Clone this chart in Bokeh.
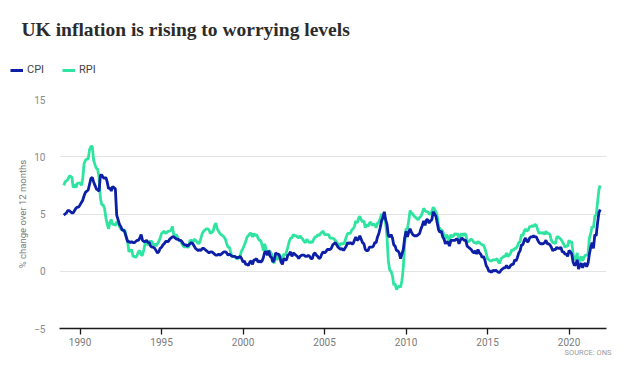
from bokeh.plotting import figure
from bokeh.models import FixedTicker, Legend, LegendItem, Title, Label, Range1d
from bokeh.embed import file_html
from bokeh.resources import INLINE

# ---- data: annual % change, monthly from Jan 1989 to Dec 2021 ----
start_year = 1989
cpi = [
    4.9, 5.0, 5.1, 5.3, 5.3, 5.2, 5.1, 5.1, 5.3, 5.5, 5.6, 5.6,   # 1989
    5.8, 6.0, 6.2, 6.6, 6.9, 7.0, 7.1, 7.6, 8.1, 8.2, 7.8, 7.5,   # 1990
    7.2, 7.1, 7.0, 8.4, 8.4, 8.2, 8.1, 8.2, 7.8, 7.2, 7.3, 7.0,   # 1991
    7.4, 7.3, 7.2, 4.9, 4.5, 4.1, 3.9, 3.6, 3.6, 3.4, 3.0, 2.6,   # 1992
    2.6, 2.5, 2.6, 2.5, 2.5, 2.6, 2.7, 2.7, 2.9, 3.2, 2.7, 2.6,   # 1993
    2.6, 2.7, 2.5, 2.5, 2.2, 2.1, 2.1, 2.0, 1.8, 1.6, 1.7, 2.0,   # 1994
    2.1, 2.3, 2.4, 2.6, 2.6, 2.6, 2.8, 2.9, 3.0, 3.0, 2.9, 2.8,   # 1995
    2.8, 2.7, 2.7, 2.6, 2.4, 2.3, 2.3, 2.2, 2.3, 2.4, 2.5, 2.4,   # 1996
    2.2, 2.0, 1.9, 1.8, 1.9, 1.8, 2.0, 2.0, 1.9, 1.8, 1.7, 1.6,   # 1997
    1.7, 1.7, 1.6, 1.5, 1.4, 1.4, 1.5, 1.4, 1.5, 1.6, 1.7, 1.7,   # 1998
    1.6, 1.4, 1.5, 1.4, 1.3, 1.3, 1.3, 1.2, 1.2, 1.2, 1.3, 1.1,   # 1999
    0.8, 0.9, 0.6, 0.6, 0.5, 0.8, 0.9, 0.6, 1.0, 1.0, 1.1, 0.8,   # 2000
    0.9, 0.8, 0.9, 1.2, 1.7, 1.7, 1.4, 1.8, 1.3, 1.2, 0.8, 1.0,   # 2001
    1.6, 1.5, 1.5, 1.3, 0.8, 0.6, 1.1, 1.0, 1.0, 1.4, 1.5, 1.7,   # 2002
    1.3, 1.6, 1.5, 1.4, 1.3, 1.1, 1.3, 1.4, 1.4, 1.4, 1.3, 1.3,   # 2003
    1.4, 1.3, 1.1, 1.1, 1.5, 1.6, 1.4, 1.3, 1.1, 1.2, 1.5, 1.7,   # 2004
    1.6, 1.7, 1.9, 1.9, 1.9, 2.0, 2.3, 2.4, 2.5, 2.3, 2.1, 2.0,   # 2005
    1.9, 2.0, 1.8, 2.0, 2.2, 2.5, 2.4, 2.5, 2.4, 2.4, 2.7, 3.0,   # 2006
    2.7, 2.8, 3.1, 2.8, 2.5, 2.4, 1.9, 1.8, 1.8, 2.1, 2.1, 2.1,   # 2007
    2.2, 2.5, 2.5, 3.0, 3.3, 3.8, 4.4, 4.7, 5.2, 4.5, 4.1, 3.1,   # 2008
    3.0, 3.2, 2.9, 2.3, 2.2, 1.8, 1.8, 1.6, 1.1, 1.5, 1.9, 2.9,   # 2009
    3.5, 3.0, 3.4, 3.7, 3.4, 3.2, 3.1, 3.1, 3.1, 3.2, 3.3, 3.7,   # 2010
    4.0, 4.4, 4.0, 4.5, 4.5, 4.2, 4.4, 4.5, 5.2, 5.0, 4.8, 4.2,   # 2011
    3.6, 3.4, 3.5, 3.0, 2.8, 2.4, 2.6, 2.5, 2.2, 2.7, 2.7, 2.7,   # 2012
    2.7, 2.8, 2.8, 2.4, 2.7, 2.9, 2.8, 2.7, 2.7, 2.2, 2.1, 2.0,   # 2013
    1.9, 1.7, 1.6, 1.8, 1.5, 1.9, 1.6, 1.5, 1.2, 1.3, 1.0, 0.5,   # 2014
    0.3, 0.0, 0.0, -0.1, 0.1, 0.0, 0.1, 0.0, -0.1, -0.1, 0.1, 0.2,  # 2015
    0.3, 0.3, 0.5, 0.3, 0.3, 0.5, 0.6, 0.6, 1.0, 0.9, 1.2, 1.6,   # 2016
    1.8, 2.3, 2.3, 2.7, 2.9, 2.6, 2.6, 2.9, 3.0, 3.0, 3.1, 3.0,   # 2017
    3.0, 2.7, 2.5, 2.4, 2.4, 2.4, 2.5, 2.7, 2.4, 2.4, 2.3, 2.1,   # 2018
    1.8, 1.9, 1.9, 2.1, 2.0, 2.0, 2.1, 1.7, 1.7, 1.5, 1.5, 1.3,   # 2019
    1.8, 1.7, 1.5, 0.8, 0.5, 0.6, 1.0, 0.2, 0.5, 0.7, 0.3, 0.6,   # 2020
    0.7, 0.4, 0.7, 1.5, 2.1, 2.5, 2.0, 3.2, 3.1, 4.2, 5.1, 5.4,   # 2021
]
rpi = [
    7.5, 7.8, 7.9, 8.0, 8.3, 8.3, 8.2, 7.3, 7.6, 7.3, 7.7, 7.7,   # 1989
    7.7, 7.5, 8.1, 9.4, 9.7, 9.8, 9.8, 10.6, 10.9, 10.9, 9.7, 9.3,  # 1990
    9.0, 8.9, 8.2, 6.4, 5.8, 5.8, 5.5, 4.7, 4.1, 3.7, 4.3, 4.5,   # 1991
    4.1, 4.1, 4.0, 4.3, 4.3, 3.9, 3.7, 3.6, 3.6, 3.6, 3.0, 2.6,   # 1992
    1.7, 1.8, 1.9, 1.3, 1.3, 1.2, 1.4, 1.7, 1.8, 1.4, 1.4, 1.9,   # 1993
    2.5, 2.4, 2.3, 2.6, 2.6, 2.6, 2.3, 2.4, 2.2, 2.4, 2.6, 2.9,   # 1994
    3.3, 3.4, 3.5, 3.3, 3.4, 3.5, 3.5, 3.6, 3.9, 3.2, 3.1, 3.2,   # 1995
    2.9, 2.7, 2.7, 2.4, 2.2, 2.1, 2.2, 2.1, 2.1, 2.7, 2.7, 2.5,   # 1996
    2.8, 2.7, 2.6, 2.4, 2.5, 2.9, 3.3, 3.5, 3.6, 3.7, 3.7, 3.6,   # 1997
    3.3, 3.4, 3.5, 4.0, 4.2, 3.7, 3.5, 3.3, 3.2, 3.1, 3.0, 2.8,   # 1998
    2.4, 2.1, 2.1, 1.6, 1.3, 1.3, 1.3, 1.1, 1.1, 1.2, 1.4, 1.8,   # 1999
    2.0, 2.3, 2.6, 3.0, 3.1, 3.3, 3.3, 3.0, 3.3, 3.1, 3.2, 2.9,   # 2000
    2.7, 2.7, 2.3, 1.8, 2.4, 1.9, 1.5, 1.8, 1.7, 1.5, 0.9, 0.7,   # 2001
    1.3, 1.0, 1.2, 1.5, 1.1, 1.0, 1.5, 1.4, 1.7, 2.1, 2.6, 2.9,   # 2002
    2.9, 3.2, 3.1, 3.1, 3.0, 2.9, 3.1, 2.9, 2.8, 2.6, 2.5, 2.8,   # 2003
    2.6, 2.5, 2.6, 2.5, 2.8, 3.0, 3.0, 3.2, 3.1, 3.3, 3.4, 3.5,   # 2004
    3.2, 3.2, 3.2, 3.2, 2.9, 2.9, 2.9, 2.8, 2.7, 2.5, 2.4, 2.2,   # 2005
    2.4, 2.4, 2.4, 2.6, 3.0, 3.3, 3.3, 3.3, 3.6, 3.7, 3.9, 4.4,   # 2006
    4.2, 4.6, 4.8, 4.5, 4.3, 4.4, 3.8, 4.1, 3.9, 4.2, 4.3, 4.0,   # 2007
    4.1, 4.1, 3.8, 4.2, 4.3, 4.6, 5.0, 4.8, 5.0, 4.2, 3.0, 0.9,   # 2008
    0.1, 0.0, -0.4, -1.2, -1.1, -1.6, -1.4, -1.3, -1.4, -0.8, 0.3, 2.4,  # 2009
    3.7, 3.7, 4.4, 5.3, 5.1, 5.0, 4.8, 4.7, 4.6, 4.5, 4.7, 4.8,   # 2010
    5.1, 5.5, 5.3, 5.2, 5.2, 5.0, 5.0, 5.2, 5.6, 5.4, 5.2, 4.8,   # 2011
    3.9, 3.7, 3.6, 3.5, 3.1, 2.8, 3.2, 2.9, 2.6, 3.2, 3.0, 3.1,   # 2012
    3.3, 3.2, 3.3, 2.9, 3.1, 3.3, 3.1, 3.3, 3.2, 2.6, 2.6, 2.7,   # 2013
    2.8, 2.7, 2.5, 2.5, 2.4, 2.6, 2.5, 2.4, 2.3, 2.3, 2.0, 1.6,   # 2014
    1.1, 1.0, 0.9, 0.9, 1.0, 1.0, 1.0, 1.1, 0.8, 0.7, 1.1, 1.2,   # 2015
    1.3, 1.3, 1.6, 1.3, 1.4, 1.6, 1.9, 1.8, 2.0, 2.0, 2.2, 2.5,   # 2016
    2.6, 3.2, 3.1, 3.5, 3.7, 3.5, 3.6, 3.9, 3.9, 4.0, 3.9, 4.1,   # 2017
    4.0, 3.6, 3.3, 3.4, 3.3, 3.4, 3.2, 3.5, 3.3, 3.3, 3.2, 2.7,   # 2018
    2.5, 2.5, 2.4, 3.0, 3.0, 2.9, 2.8, 2.6, 2.4, 2.1, 2.2, 2.2,   # 2019
    2.7, 2.5, 2.6, 1.5, 1.0, 1.1, 1.6, 0.5, 1.1, 1.3, 0.9, 1.2,   # 2020
    1.4, 1.4, 1.5, 2.9, 3.3, 3.9, 3.8, 4.8, 4.9, 6.0, 7.1, 7.5,   # 2021
]
x_ticks = [1990, 1995, 2000, 2005, 2010, 2015, 2020]
y_ticks = [-5, 0, 5, 10, 15]
series_names = ["CPI", "RPI"]
series_colors = ["#0c1fa6", "#2fe4a0"]
title_text = "UK inflation is rising to worrying levels"
source_text = "SOURCE: ONS"
y_label = "% change over 12 months"

months = [start_year + i / 12 for i in range(len(cpi))]

HEAD_H = 90

# ---------- header: title + legend (pixel coordinates, y downwards) ----------
head = figure(width=641, height=HEAD_H, output_backend="svg", toolbar_location=None,
              x_range=Range1d(0, 641), y_range=Range1d(HEAD_H, 0),
              x_axis_location=None, y_axis_location=None, min_border=0)
head.outline_line_color = None
head.xgrid.grid_line_color = None
head.ygrid.grid_line_color = None
head.add_layout(Label(x=21, y=29, text=title_text,
                      text_font="Liberation Serif", text_font_style="bold",
                      text_font_size="19.5px", text_color="#2b2b2b",
                      text_baseline="alphabetic"))
# legend keys (a single missing point each, so nothing is drawn in the header)
key_cpi = head.line(x=[float("nan")], y=[float("nan")],
                    line_color=series_colors[0], line_width=3)
key_rpi = head.line(x=[float("nan")], y=[float("nan")],
                    line_color=series_colors[1], line_width=3)
legend = Legend(items=[LegendItem(label=series_names[0], renderers=[key_cpi]),
                       LegendItem(label=series_names[1], renderers=[key_rpi])],
                orientation="horizontal", location=(10, 14),
                glyph_width=13, glyph_height=12, label_height=12,
                label_standoff=4, spacing=15, padding=0, margin=0,
                border_line_alpha=0, background_fill_alpha=0,
                label_text_font="Roboto", label_text_font_size="11px",
                label_text_color="#444444")
head.add_layout(legend)

# ---------- main chart ----------
p = figure(width=641, height=373 - HEAD_H, output_backend="svg", toolbar_location=None,
           x_range=Range1d(1988.74, 2022.3), y_range=Range1d(-5, 15),
           min_border_left=59, min_border_right=35,
           min_border_top=99 - HEAD_H, min_border_bottom=45)
p.outline_line_color = None
p.background_fill_color = "white"
p.border_fill_color = "white"

p.line(months, rpi, line_color=series_colors[1], line_width=2.8)
p.line(months, cpi, line_color=series_colors[0], line_width=2.8)

xa = p.xaxis[0]
xa.ticker = FixedTicker(ticks=x_ticks)
xa.minor_tick_line_color = None
xa.axis_line_color = "#1a1a1a"
xa.axis_line_width = 1.5
xa.major_tick_line_color = "#1a1a1a"
xa.major_tick_line_width = 1.3
xa.major_tick_out = 6
xa.major_tick_in = 0
xa.major_label_standoff = 3
xa.major_label_text_font = "Roboto"
xa.major_label_text_font_size = "10px"
xa.major_label_text_color = "#7a7a7a"

ya = p.yaxis[0]
ya.ticker = FixedTicker(ticks=y_ticks)
ya.minor_tick_line_color = None
ya.major_tick_line_color = None
ya.axis_line_color = None
ya.major_tick_out = 0
ya.major_tick_in = 0
ya.major_label_standoff = 14
ya.major_label_text_font = "Roboto"
ya.major_label_text_font_size = "10px"
ya.major_label_text_color = "#8a8a8a"
ya.axis_label = y_label
ya.axis_label_text_font = "Roboto"
ya.axis_label_text_font_style = "normal"
ya.axis_label_text_font_size = "9.5px"
ya.axis_label_text_color = "#7a7a7a"
ya.axis_label_standoff = 3

p.xgrid.grid_line_color = None
p.ygrid.grid_line_color = "#e4e4e4"
p.ygrid.grid_line_width = 1

source = Title(text=source_text, align="right", offset=-5,
               text_font="Roboto", text_font_size="7.5px",
               text_font_style="normal", text_color="#9a9a9a", standoff=-6)
p.add_layout(source, "below")

open("out.html", "w").write(file_html([head, p], INLINE))
